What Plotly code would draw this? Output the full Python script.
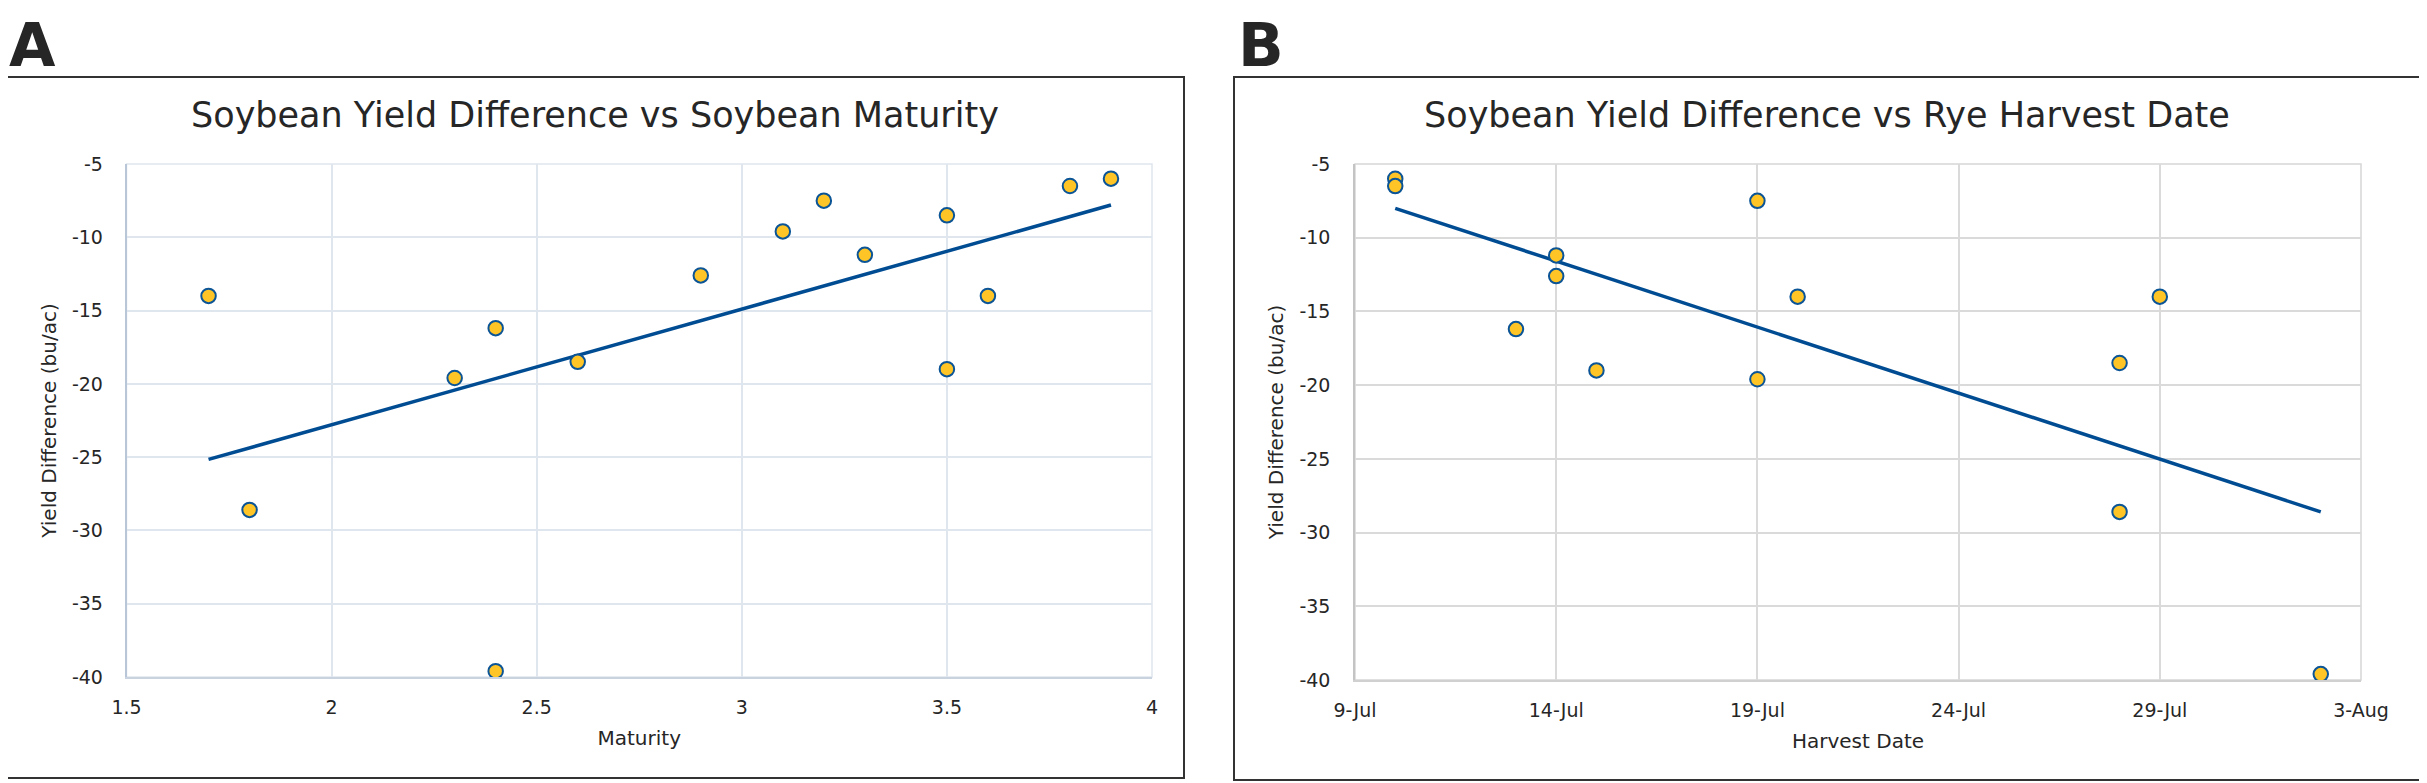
import numpy as np
import plotly.graph_objects as go

# the page puts the figure 8px in from the top-left corner
OFF = 8
W, H = 2427 - OFF, 783 - OFF

# Panel A: yield difference vs soybean maturity
maturity = [1.7, 1.8, 2.3, 2.4, 2.4, 2.6, 2.9, 3.1, 3.2, 3.3, 3.5, 3.5, 3.6, 3.8, 3.9]
yield_diff_a = [-14.0, -28.6, -19.6, -16.2, -39.6, -18.5, -12.6, -9.6, -7.5, -11.2,
                -8.5, -19.0, -14.0, -6.5, -6.0]
x_ticks_a = [1.5, 2, 2.5, 3, 3.5, 4]

# Panel B: yield difference vs rye harvest date
harvest_date = ["2021-07-10", "2021-07-10", "2021-07-14", "2021-07-14", "2021-07-13",
                "2021-07-15", "2021-07-19", "2021-07-19", "2021-07-20", "2021-07-29",
                "2021-07-28", "2021-07-28", "2021-08-02"]
yield_diff_b = [-6.0, -6.5, -11.2, -12.6, -16.2, -19.0, -7.5, -19.6, -14.0, -14.0,
                -18.5, -28.6, -39.6]
x_ticks_b = ["2021-07-09", "2021-07-14", "2021-07-19", "2021-07-24", "2021-07-29", "2021-08-03"]
x_tick_labels_b = ["9-Jul", "14-Jul", "19-Jul", "24-Jul", "29-Jul", "3-Aug"]

y_ticks = [-40, -35, -30, -25, -20, -15, -10, -5]

FONT = "DejaVu Sans"
TXT = "#262626"
DOT_FILL = "#FFC425"
DOT_EDGE = "#0B5496"
LINE_COL = "#004C93"


def px(x):
    return (x - OFF) / W


def py(y):
    return 1 - (y - OFF) / H


# linear trendlines (same as Excel's linear trendline)
ma = np.array(maturity)
sa, ia = np.polyfit(ma, np.array(yield_diff_a), 1)
trend_xa = [ma.min(), ma.max()]
trend_ya = [sa * v + ia for v in trend_xa]

db = np.array(harvest_date, dtype="datetime64[D]")
days = (db - db.min()).astype(float)
sb, ib = np.polyfit(days, np.array(yield_diff_b), 1)
trend_xb = [str(db.min()), str(db.max())]
trend_yb = [ib, sb * days.max() + ib]

fig = go.Figure()

marker = dict(color=DOT_FILL, size=14.5, line=dict(color=DOT_EDGE, width=2))

fig.add_trace(go.Scatter(x=trend_xa, y=trend_ya, mode="lines",
                         line=dict(color=LINE_COL, width=3.5),
                         xaxis="x", yaxis="y", showlegend=False))
fig.add_trace(go.Scatter(x=maturity, y=yield_diff_a, mode="markers", marker=marker,
                         xaxis="x", yaxis="y", showlegend=False))

fig.add_trace(go.Scatter(x=trend_xb, y=trend_yb, mode="lines",
                         line=dict(color=LINE_COL, width=3.5),
                         xaxis="x2", yaxis="y2", showlegend=False))
fig.add_trace(go.Scatter(x=harvest_date, y=yield_diff_b, mode="markers", marker=marker,
                         xaxis="x2", yaxis="y2", showlegend=False))

tick_font = dict(family=FONT, size=19, color=TXT)
title_font = dict(family=FONT, size=20, color=TXT)
y_labels = [str(v) for v in y_ticks]

common = dict(showgrid=True, gridwidth=1.5, showline=True, linewidth=1.5,
              zeroline=False, ticks="", tickfont=tick_font, automargin=False)

fig.update_layout(
    width=W, height=H, autosize=False,
    margin=dict(l=0, r=0, t=0, b=0, pad=0),
    paper_bgcolor="white", plot_bgcolor="white",
    showlegend=False,
    xaxis=dict(domain=[px(126.5), px(1152)], range=[1.5, 4],
               tickvals=x_ticks_a, ticktext=[f"{v:g}" for v in x_ticks_a],
               gridcolor="#e0e6ee", linecolor="#c9d3e0", ticklabelstandoff=12,
               title=dict(text="Maturity", font=title_font, standoff=14),
               anchor="y", **common),
    yaxis=dict(domain=[py(677), py(164)], range=[-40, -5],
               tickvals=y_ticks, ticktext=y_labels,
               gridcolor="#e0e6ee", linecolor="#b9c6d8", ticklabelstandoff=18,
               title=dict(text="Yield Difference (bu/ac)", font=title_font, standoff=10),
               anchor="x", **common),
    xaxis2=dict(domain=[px(1355), px(2361)], type="date",
                range=[x_ticks_b[0], x_ticks_b[-1]],
                tickvals=x_ticks_b, ticktext=x_tick_labels_b,
                gridcolor="#dadada", linecolor="#d0d0d0", ticklabelstandoff=12,
                title=dict(text="Harvest Date", font=title_font, standoff=14),
                anchor="y2", **common),
    yaxis2=dict(domain=[py(680), py(164)], range=[-40, -5],
                tickvals=y_ticks, ticktext=y_labels,
                gridcolor="#dadada", linecolor="#c4c4c4", ticklabelstandoff=19,
                title=dict(text="Yield Difference (bu/ac)", font=title_font, standoff=10),
                anchor="x2", **common),
)

# outer chart boxes
fig.add_shape(type="rect", xref="paper", yref="paper",
              x0=px(6), x1=px(1184), y0=py(778), y1=py(77),
              line=dict(color="#333333", width=2), layer="below")
fig.add_shape(type="rect", xref="paper", yref="paper",
              x0=px(1234), x1=px(2420), y0=py(780), y1=py(77),
              line=dict(color="#333333", width=2), layer="below")
# top/right plot edges
fig.add_shape(type="rect", xref="x domain", yref="y domain", x0=0, x1=1, y0=0, y1=1,
              line=dict(color="#e0e6ee", width=1.5), layer="below")
fig.add_shape(type="rect", xref="x2 domain", yref="y2 domain", x0=0, x1=1, y0=0, y1=1,
              line=dict(color="#d6d6d6", width=1.5), layer="below")

# panel letters
for letter, x in [("A", 7), ("B", 1236)]:
    fig.add_annotation(text=letter, x=px(x), y=1, xref="paper", yref="paper",
                       xanchor="left", yanchor="top", showarrow=False,
                       font=dict(family=FONT, size=60, color="#262626", weight="bold"))

# chart titles
for title, cx in [("Soybean Yield Difference vs Soybean Maturity", 595),
                  ("Soybean Yield Difference vs Rye Harvest Date", 1827)]:
    fig.add_annotation(text=title, x=px(cx), y=py(115.5), xref="paper", yref="paper",
                       xanchor="center", yanchor="middle", showarrow=False,
                       font=dict(family=FONT, size=35, color=TXT))

fig.write_html("out.html")
